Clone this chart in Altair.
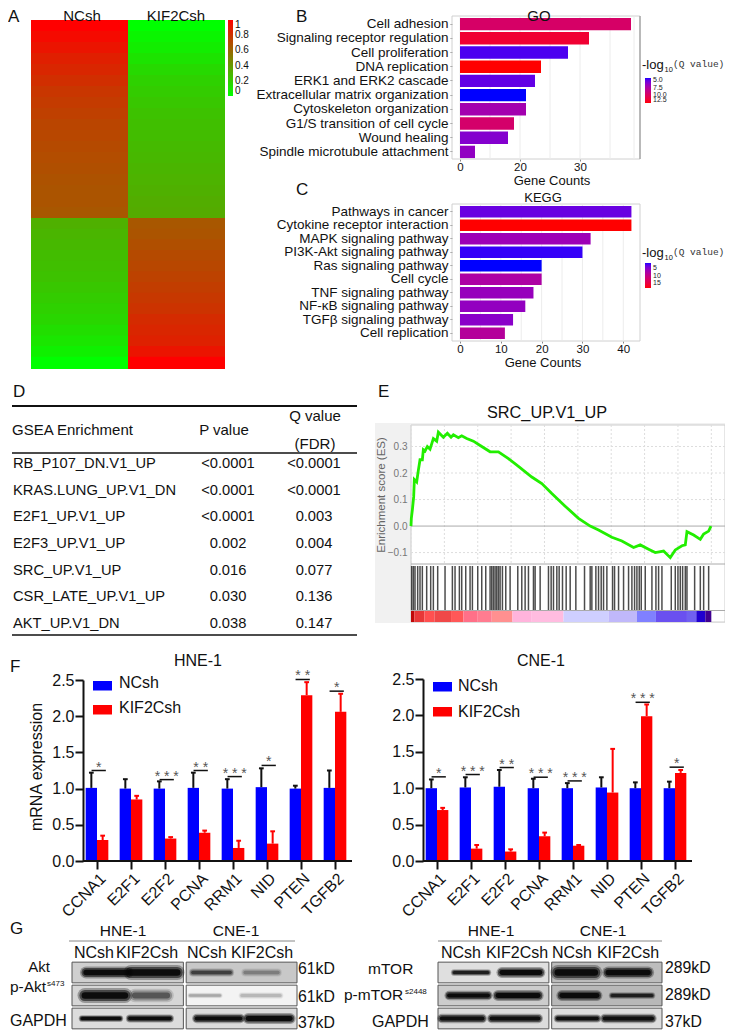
import altair as alt
import pandas as pd

W, H = 717, 1023
SANS = "Liberation Sans"
BLANK = alt.Data(values=[{"a": 1}])

def P(v):
    return v - 8

def T(text, x, y, size=14, align="left", color="#111111", font=SANS, angle=0, baseline="middle"):
    return alt.Chart(BLANK).mark_text(text=text, fontSize=size, align=align, baseline=baseline,
                                      color=color, font=font, angle=angle).encode(
        x=alt.value(P(x)), y=alt.value(P(y)))

def BOX(x0, y0, x1, y1, fill="transparent", stroke="transparent", sw=1):
    return alt.Chart(BLANK).mark_rect(fill=fill, stroke=stroke, strokeWidth=sw).encode(
        x=alt.value(P(x0)), x2=alt.value(P(x1)), y=alt.value(P(y0)), y2=alt.value(P(y1)))

def HL(x0, x1, y, color="#000000", sw=1):
    return alt.Chart(BLANK).mark_rule(color=color, strokeWidth=sw).encode(
        x=alt.value(P(x0)), x2=alt.value(P(x1)), y=alt.value(P(y)))

# ---------------------------------------------------------------- A heat map
heat_nc = [1.0, .96, .92, .88, .85, .82, .79, .77, .75, .73, .72, .71, .70, .69, .68, .67, .67, .66,
           .31, .29, .28, .26, .25, .24, .22, .20, .18, .16, .13, .10, .06, .0]
heat_kif = [.0, .04, .07, .11, .15, .18, .20, .22, .24, .25, .26, .27, .28, .29, .30, .31, .32, .33,
            .66, .67, .69, .71, .72, .74, .76, .78, .80, .83, .85, .87, .92, 1.0]
heat_rows = []
for r, (a, b) in enumerate(zip(heat_nc, heat_kif)):
    heat_rows.append({"col": 0, "col2": 1, "r": r, "r2": r + 1.15, "v": a})
    heat_rows.append({"col": 1, "col2": 2, "r": r, "r2": r + 1.15, "v": b})
heat = alt.Chart(pd.DataFrame(heat_rows)).mark_rect().encode(
    x=alt.X("col:Q", scale=alt.Scale(domain=[0, 2], range=[P(31), P(225)]), axis=None),
    x2="col2:Q",
    y=alt.Y("r:Q", scale=alt.Scale(domain=[0, 18, 32.15], range=[P(20), P(218), P(369)]), axis=None),
    y2="r2:Q",
    color=alt.Color("v:Q", scale=alt.Scale(domain=[0, 1], range=["#00ff00", "#ff0000"], interpolate="rgb"),
                    legend=alt.Legend(title=None, orient="none", legendX=P(228), legendY=P(20),
                                      gradientLength=76, gradientThickness=5,
                                      values=[0, .2, .4, .6, .8, 1], labelFontSize=10, labelFont=SANS,
                                      labelColor="#111111", labelOverlap=False, labelOffset=2,
                                      format=".1~f", gradientStrokeWidth=0)),
)

# ---------------------------------------------------------------- B, C bars
go_terms = ["Cell adhesion", "Signaling receptor regulation", "Cell proliferation", "DNA replication",
            "ERK1 and ERK2 cascade", "Extracellular matrix organization", "Cytoskeleton organization",
            "G1/S transition of cell cycle", "Wound healing", "Spindle microtubule attachment"]
go_counts = [38.5, 31.5, 28, 23.5, 22.5, 21, 21, 18, 16, 5]
go_q = [9.65, 11.4, 4.85, 12.5, 5.2, 4.35, 7.05, 9.5, 6.0, 6.4]
kegg_terms = ["Pathways in cancer", "Cytokine receptor interaction", "MAPK signaling pathway",
              "PI3K-Akt signaling pathway", "Ras signaling pathway", "Cell cycle", "TNF signaling pathway",
              "NF-κB signaling pathway", "TGFβ signaling pathway", "Cell replication"]
kegg_counts = [42, 42, 32, 30, 20, 20, 18, 16, 13, 11]
kegg_q = [3.7, 18.3, 6.7, 2.2, 1.7, 8.0, 6.3, 6.0, 5.4, 8.7]

def enrich(terms, counts, qs, xscale, ticks, grid, y0, y1, axis_y, legend, frame_x=(452, 640)):
    df = pd.DataFrame({"term": terms, "count": counts, "q": qs})
    xaxis = alt.Axis(values=ticks, orient="bottom", offset=P(axis_y) - H, grid=False, domain=False,
                     tickSize=2, tickColor="#888888", labelFontSize=11.5, labelFont=SANS,
                     labelColor="#111111", labelPadding=0, labelFlush=False, format="d", title=None)
    x_enc = alt.X("count:Q", scale=xscale, stack=None, title=None, axis=xaxis)
    y_enc = alt.Y("term:N", sort=None, title=None,
                  scale=alt.Scale(domain=terms, range=[P(y0), P(y1)], paddingInner=.13, paddingOuter=.065),
                  axis=alt.Axis(orient="left", offset=-P(frame_x[0]), grid=False, domain=False, tickSize=2,
                                tickColor="#888888", labelFontSize=13.5, labelFont=SANS, labelColor="#111111",
                                labelLimit=300, labelPadding=2, title=None))
    grid_df = pd.DataFrame({"g": grid})
    g = alt.Chart(grid_df).mark_rule(color="#ececec", strokeWidth=1).encode(
        x=alt.X("g:Q", scale=xscale, axis=xaxis, title=None), y=alt.value(P(y0)), y2=alt.value(P(y1)))
    bars = alt.Chart(df).mark_bar().encode(x=x_enc, y=y_enc,
                                           color=alt.Color("q:Q", scale=legend["scale"], legend=legend["legend"]))
    return alt.layer(g, bars)

def q_legend(domain, y, values, fmt):
    return {"scale": alt.Scale(domain=domain, range=["#ff0000", "#0000ff"], interpolate="lab"),
            "legend": alt.Legend(title=None, orient="none", legendX=P(645), legendY=P(y), gradientLength=25,
                                 gradientThickness=6, values=values, labelFontSize=7, labelFont=SANS,
                                 labelColor="#222222", labelOverlap=False, format=fmt, labelOffset=2,
                                 gradientStrokeWidth=0)}

go_chart = enrich(go_terms, go_counts, go_q,
                  alt.Scale(domain=[-2.67, 0, 20, 30, 40], range=[P(452), P(460), P(520), P(580), P(640)]),
                  [0, 20, 30], [0, 10, 20, 25, 30, 35, 39], 17, 159, 159,
                  q_legend([12.5, 4.35], 78, [5, 7.5, 10, 12.5], ".1f"))
kegg_chart = enrich(kegg_terms, kegg_counts, kegg_q,
                    alt.Scale(domain=[-1.96, 44.1], range=[P(452), P(640)]),
                    [0, 10, 20, 30, 40], [0, 5, 10, 15, 20, 25, 30, 35, 40], 205, 340, 341,
                    q_legend([18.3, 1.7], 263, [5, 10, 15], "d"))

# ---------------------------------------------------------------- D table
gsea_names = ["RB_P107_DN.V1_UP", "KRAS.LUNG_UP.V1_DN", "E2F1_UP.V1_UP", "E2F3_UP.V1_UP", "SRC_UP.V1_UP",
              "CSR_LATE_UP.V1_UP", "AKT_UP.V1_DN"]
gsea_p = ["<0.0001", "<0.0001", "<0.0001", "0.002", "0.016", "0.030", "0.038"]
gsea_q = ["<0.0001", "<0.0001", "0.003", "0.004", "0.077", "0.136", "0.147"]
table_df = pd.DataFrame({"n": gsea_names, "p": gsea_p, "q": gsea_q})
row_y = alt.Y("n:N", sort=None, scale=alt.Scale(domain=gsea_names, range=[P(451), P(637)]), axis=None)
table = alt.layer(
    alt.Chart(table_df).mark_text(align="left", fontSize=14.7, font=SANS, color="#111111").encode(
        x=alt.value(P(13)), y=row_y, text="n:N"),
    alt.Chart(table_df).mark_text(align="center", fontSize=14.7, font=SANS, color="#111111").encode(
        x=alt.value(P(228)), y=row_y, text="p:N"),
    alt.Chart(table_df).mark_text(align="center", fontSize=14.7, font=SANS, color="#111111").encode(
        x=alt.value(P(314)), y=row_y, text="q:N"),
)

# ---------------------------------------------------------------- E GSEA
curve_x = [0, .01, .04, .08, .10, .17, .22, .27, .34, .37, .42, .49, .57, .67, .77, .82, .97, 1.09, 1.20, 1.27,
           1.42, 1.52, 1.67, 1.87, 2.12, 2.37, 2.62, 2.92, 3.22, 3.62, 3.92, 4.22, 4.62, 5.02, 5.37, 5.62,
           6.02, 6.32, 6.67, 6.87, 7.12, 7.32, 7.57, 7.77, 7.92, 8.12, 8.22, 8.27, 8.47, 8.67, 8.77, 8.92, 8.99]
curve_y = [0, .029, .06, .11, .175, .166, .21, .25, .25, .288, .283, .30, .29, .33, .32, .354, .335, .35, .335, .344,
           .333, .34, .33, .32, .30, .28, .28, .254, .225, .185, .16, .1225, .075, .029, 0, -.015,
           -.0425, -.056, -.081, -.071, -.0875, -.1, -.094, -.119, -.09, -.074, -.071, -.021, -.034, -.05, -.03, -.019, 0]
hits = [.02, .07, .12, .20, .27, .34, .47, .59, .67, .80, 1.02, 1.24, 1.32, 1.45, 1.52, 1.64, 1.77, 1.84, 2.0, 2.12,
        2.24, 2.37, 2.42, 2.47, 2.52, 2.57, 2.62, 2.67, 2.74, 2.84, 2.97, 3.2, 3.32, 3.42, 3.52, 3.67, 3.72, 3.87,
        4.12, 4.2, 4.27, 4.37, 4.44, 4.54, 4.65, 4.77, 4.94, 5.2, 5.37, 5.42, 5.54, 5.62, 5.7, 5.77, 5.87, 6.04, 6.1,
        6.22, 6.37, 6.52, 6.62, 6.7, 6.77, 6.84, 6.9, 7.02, 7.22, 7.34, 7.42, 7.52, 7.8, 7.92, 8.0, 8.07, 8.14, 8.22,
        8.27, 8.5, 8.67, 8.77, 8.92]
rank_starts = [0, .10, .40, .70, 1.20, 1.57, 2.0, 2.42, 3.04, 3.60, 4.57, 5.92, 6.77, 7.34, 8.27, 8.55, 8.82]
rank_ends = [.10, .40, .70, 1.20, 1.57, 2.0, 2.42, 3.04, 3.60, 4.57, 5.92, 6.77, 7.34, 8.27, 8.55, 8.82, 9.0]
rank_cols = ["#c00808", "#e83838", "#ff5050", "#f04848", "#ff5858", "#ff7088", "#ff7c90", "#ff9090", "#ffb4dc",
             "#ffbce0", "#cfcfff", "#c0b8fa", "#8080ff", "#6a50f0", "#7060f0", "#2000d0", "#400090"]

gx = alt.Scale(domain=[0, 9.41], range=[P(411), P(725)])
gy = alt.Scale(domain=[-.143, .381], range=[P(564), P(425)])
es_axis = alt.Axis(orient="left", offset=-P(411), values=[-.1, 0, .1, .2, .3], grid=False, domain=False,
                   ticks=False, labelFontSize=10, labelColor="#777777", labelFont=SANS, format=".1f",
                   labelPadding=4, title=None, zindex=1)
v_grid = alt.Chart(pd.DataFrame({"g": [0, 1, 2, 3, 4, 5, 6, 7, 8, 9]})).mark_rule(
    color="#dddddd", strokeDash=[2, 2]).encode(
    x=alt.X("g:Q", scale=gx, axis=None), y=alt.value(P(425)), y2=alt.value(P(564)))
h_grid = alt.Chart(pd.DataFrame({"g": [-.1, .1, .2, .3]})).mark_rule(
    color="#dddddd", strokeDash=[2, 2]).encode(
    y=alt.Y("g:Q", scale=gy, axis=es_axis, title=None), x=alt.value(P(411)), x2=alt.value(P(725)))
zero_line = alt.Chart(pd.DataFrame({"g": [0]})).mark_rule(color="#aaaaaa").encode(
    y=alt.Y("g:Q", scale=gy, axis=es_axis, title=None), x=alt.value(P(411)), x2=alt.value(P(725)))
es_line = alt.Chart(pd.DataFrame({"x": curve_x, "y": curve_y})).mark_line(color="#22ee00", strokeWidth=2.8).encode(
    x=alt.X("x:Q", scale=gx, axis=None),
    y=alt.Y("y:Q", scale=gy, title=None, axis=es_axis))
hit_marks = alt.Chart(pd.DataFrame({"h": hits})).mark_rule(color="#000000", strokeWidth=1.5, opacity=.7).encode(
    x=alt.X("h:Q", scale=gx, axis=None), y=alt.value(P(566)), y2=alt.value(P(610)))
rank_bar = alt.Chart(pd.DataFrame({"s": rank_starts, "e": rank_ends, "c": rank_cols})).mark_rect().encode(
    x=alt.X("s:Q", scale=gx, axis=None), x2="e:Q", y=alt.value(P(611)), y2=alt.value(P(622)),
    color=alt.Color("c:N", scale=None))
gsea = alt.layer(v_grid, h_grid, zero_line, hit_marks, rank_bar, es_line)

# ---------------------------------------------------------------- F bars
genes = ["CCNA1", "E2F1", "E2F2", "PCNA", "RRM1", "NID", "PTEN", "TGFB2"]
hne_nc = [1.01, 1.0, 1.0, 1.01, 1.0, 1.02, 1.0, 1.01]
hne_nc_cap = [1.22, 1.13, 1.10, 1.22, 1.13, 1.28, 1.04, 1.25]
hne_kd = [.29, .85, .31, .39, .18, .24, 2.29, 2.06]
hne_kd_cap = [.35, .90, .33, .42, .28, .41, 2.47, 2.31]
hne_sig_gene = [0, 2, 3, 4, 5, 6, 7]
hne_sig_y = [1.25, 1.124, 1.25, 1.166, 1.32, 2.507, 2.346]
hne_sig_txt = ["*", "* * *", "* *", "* * *", "*", "* *", "*"]
cne_nc = [1.0, 1.01, 1.02, 1.0, 1.0, 1.01, 1.0, 1.0]
cne_nc_cap = [1.12, 1.15, 1.25, 1.13, 1.07, 1.15, 1.08, 1.09]
cne_kd = [.70, .17, .13, .34, .21, .94, 1.99, 1.21]
cne_kd_cap = [.73, .22, .16, .39, .22, 1.54, 2.15, 1.25]
cne_sig_gene = [0, 1, 2, 3, 4, 6, 7]
cne_sig_y = [1.156, 1.188, 1.284, 1.151, 1.10, 2.18, 1.289]
cne_sig_txt = ["*", "* * *", "* *", "* * *", "* * *", "* * *", "*"]
BW = 1 / 3

def qpcr(nc, ncc, kd, kdc, sg, sy, st, xr, ytop):
    xs = alt.Scale(domain=[-.5, 7.5], range=[P(xr[0]), P(xr[1])])
    ys = alt.Scale(domain=[0, 2.5], range=[P(861), P(ytop)])
    rows = []
    for i in range(8):
        rows.append({"gene": genes[i], "i": i, "l": i - BW, "r": i, "c": i - BW / 2, "v": nc[i], "cap": ncc[i], "z": 0,
                     "cl": i - BW / 2 - .07, "cr": i - BW / 2 + .07, "col": "#0000ff", "ec": "#111111"})
        rows.append({"gene": genes[i], "i": i, "l": i, "r": i + BW, "c": i + BW / 2, "v": kd[i], "cap": kdc[i], "z": 0,
                     "cl": i + BW / 2 - .07, "cr": i + BW / 2 + .07, "col": "#ff0000", "ec": "#ff0000"})
    df = pd.DataFrame(rows)
    expr = "{}[datum.value]".format(genes)
    xaxis = alt.Axis(values=list(range(8)), orient="bottom", offset=P(861) - H, domain=False, grid=False, tickSize=8,
                     tickWidth=2, tickColor="#111111", labelExpr=expr, labelAngle=315, labelAlign="right",
                     labelBaseline="top", labelFontSize=16, labelFont=SANS, labelColor="#111111", labelPadding=1,
                     title=None, labelFlush=False, labelOverlap=False, labelBound=False)
    yaxis = alt.Axis(values=[0, .5, 1, 1.5, 2, 2.5], orient="left", offset=-P(xr[0] + 3), grid=False, domain=True,
                     domainWidth=2, domainColor="#111111", tickSize=8, tickWidth=2, tickColor="#111111", format=".1f",
                     labelFontSize=16, labelFont=SANS, labelColor="#111111", labelPadding=1, title=None,
                     labelFlush=False, labelOverlap=False)
    X = lambda f: alt.X(f, scale=xs, axis=xaxis, title=None)
    Y = lambda f: alt.Y(f, scale=ys, axis=yaxis, title=None)
    bars = alt.Chart(df).mark_rect().encode(
        x=X("l:Q"), x2="r:Q", y=Y("v:Q"), y2="z:Q", color=alt.Color("col:N", scale=None))
    err = alt.Chart(df).mark_rule(strokeWidth=2).encode(
        x=X("c:Q"), y=Y("v:Q"), y2="cap:Q", color=alt.Color("ec:N", scale=None))
    cap = alt.Chart(df).mark_rule(strokeWidth=2).encode(
        x=X("cl:Q"), x2="cr:Q", y=Y("cap:Q"), color=alt.Color("ec:N", scale=None))
    base = alt.Chart(alt.Data(values=[{"y": 0, "a": -.41, "b": 7.5}])).mark_rule(strokeWidth=2, color="#111111").encode(
        x=X("a:Q"), x2="b:Q", y=Y("y:Q"))
    sdf = pd.DataFrame({"g": sg, "y": sy, "t": st})
    sdf["a"] = sdf["g"] - .16
    sdf["b"] = sdf["g"] + .26
    sdf["m"] = sdf["g"] + .05
    sig = alt.Chart(sdf).mark_rule(strokeWidth=1.5, color="#111111").encode(
        x=X("a:Q"), x2="b:Q", y=Y("y:Q"))
    stars = alt.Chart(sdf).mark_text(fontSize=14, font=SANS, color="#555555", baseline="middle", dy=-3).encode(
        x=X("m:Q"), y=Y("y:Q"), text="t:N")
    return alt.layer(bars, err, cap, base, sig, stars)

hne_chart = qpcr(hne_nc, hne_nc_cap, hne_kd, hne_kd_cap, hne_sig_gene, hne_sig_y, hne_sig_txt, (80, 352), 680)
cne_chart = qpcr(cne_nc, cne_nc_cap, cne_kd, cne_kd_cap, cne_sig_gene, cne_sig_y, cne_sig_txt, (420, 692), 679)

# ---------------------------------------------------------------- G blots
blot_rows = ["Total", "Phospho", "GAPDH"]
left_bg = ["#cfcfcf", "#d6d6d6", "#dcdcdc"]
left_bg2 = ["#c8c8c8", "#f3f3f3", "#dcdcdc"]
right_bg = ["#dfdfdf", "#cccccc", "#dcdcdc"]
right_bg2 = ["#bdbdbd", "#b8b8b8", "#dddddd"]
left_row = [0, 0, 0, 0, 1, 1, 1, 1, 2, 2, 2, 2]
left_a = [.25, 1.05, 2.15, 3.08, .23, 1.12, 2.10, 3.02, .18, 1.03, 2.22, 3.13]
left_b = [.98, 1.87, 2.81, 3.66, .94, 1.69, 2.63, 3.70, .85, 1.74, 2.99, 3.88]
left_t = [9, 11, 6, 6, 11, 10, 4, 5, 5, 6, 7, 8]
left_o = [1, 1, .55, .25, 1, .45, .2, .15, 1, 1, 1, 1]
right_row = [0, 0, 0, 0, 1, 1, 1, 1, 2, 2, 2, 2]
right_a = [.29, 1.14, 2.14, 3.04, .20, 1.07, 2.21, 3.11, .07, .96, 2.14, 2.98]
right_b = [.89, 1.82, 2.80, 3.75, .89, 1.79, 2.84, 3.82, .79, 1.79, 2.84, 3.82]
right_t = [5, 8, 11, 9, 7, 8, 8, 5, 7, 7, 6, 7]
right_o = [.8, 1, 1, 1, 1, 1, 1, .75, .95, .95, .95, .95]

def blot(bg1, bg2, rws, a, b, t, o, x0, x1):
    xs = alt.Scale(domain=[0, 4], range=[P(x0), P(x1)])
    ys = alt.Scale(domain=blot_rows, range=[P(961), P(1030)], paddingInner=.1, paddingOuter=.05)
    bgd = pd.DataFrame({"r": blot_rows * 2, "a": [0] * 3 + [2.03] * 3, "b": [1.98] * 3 + [4] * 3, "f": bg1 + bg2})
    y_enc = alt.Y("r:N", scale=ys, axis=None, sort=None)
    bg = alt.Chart(bgd).mark_rect(stroke="#555555", strokeWidth=1).encode(
        x=alt.X("a:Q", scale=xs, axis=None), x2="b:Q", y=y_enc, fill=alt.Fill("f:N", scale=None))
    dfb = pd.DataFrame({"r": [blot_rows[i] for i in rws], "a": a, "b": b, "t": t, "o": o})
    dfb["t1"] = dfb["t"] * 1.35
    dfb["o1"] = dfb["o"] * .3
    dfb["t2"] = dfb["t"] * 1.0
    dfb["o2"] = dfb["o"] * .55
    dfb["t3"] = dfb["t"] * .6
    dfb["o3"] = dfb["o"] * .9
    layers = [bg]
    for k in "123":
        layers.append(alt.Chart(dfb).mark_rule(color="#050505", strokeCap="round").encode(
            x=alt.X("a:Q", scale=xs, axis=None), x2="b:Q", y=y_enc,
            size=alt.Size("t%s:Q" % k, scale=None), opacity=alt.Opacity("o%s:Q" % k, scale=None)))
    return alt.layer(*layers)

blot_l = blot(left_bg, left_bg2, left_row, left_a, left_b, left_t, left_o, 72, 297)
blot_r = blot(right_bg, right_bg2, right_row, right_a, right_b, right_t, right_o, 438, 662)

# ---------------------------------------------------------------- decoration, text
def legend_f(xr, xt, y1, y2, t1, t2):
    return [BOX(xr, y1, xr + 19, y1 + 9.5, fill="#0000ff"), BOX(xr, y2, xr + 19, y2 + 9.5, fill="#ff0000"),
            T("NCsh", xt, t1, 16), T("KIF2Csh", xt, t2, 16)]

texts = [
    T("A", 8, 17, 17), T("B", 296, 17, 17), T("C", 296, 190, 17), T("D", 13, 392, 17), T("E", 378, 392, 17),
    T("F", 10, 667, 17), T("G", 10, 929, 17),
    T("NCsh", 82, 15.5, 15, "center"), T("KIF2Csh", 176, 15.5, 15, "center"),
    T("GO", 539, 16, 15, "center"), T("Gene Counts", 552, 181, 13, "center"),
    T("KEGG", 543, 198, 13, "center"), T("Gene Counts", 543, 363, 13, "center"),
    T("-log", 642, 65, 13), T("10", 664.5, 70, 7.5), T("(Q value)", 673, 64, 9.5, font="Liberation Mono", color="#333333"),
    T("-log", 642, 253, 13), T("10", 664.5, 258, 7.5), T("(Q value)", 673, 252, 9.5, font="Liberation Mono", color="#333333"),
    T("GSEA Enrichment", 12, 430, 15), T("P value", 224, 430, 15, "center"),
    T("Q value", 315, 416, 15, "center"), T("(FDR)", 315, 444, 15, "center"),
    T("SRC_UP.V1_UP", 547, 413, 16.3, "center"),
    T("Enrichment score (ES)", 382, 495, 11.5, "center", color="#666666", angle=270),
    T("HNE-1", 198, 661, 16, "center"), T("CNE-1", 541, 661, 16, "center"),
    T("mRNA expression", 37, 767, 16, "center", angle=270),
    # G left
    T("HNE-1", 123, 931, 15.5, "center"), T("CNE-1", 236, 931, 15.5, "center"),
    T("NCsh", 94, 953, 16, "center"), T("KIF2Csh", 147, 953, 16, "center"),
    T("NCsh", 207, 953, 16, "center"), T("KIF2Csh", 262, 953, 16, "center"),
    T("Akt", 39, 967, 15, "center"), T("p-Akt", 10, 987, 15.5), T("s473", 47, 984, 8), T("GAPDH", 10, 1021, 16),
    T("61kD", 298, 969, 15.8), T("61kD", 298, 997, 15.8), T("37kD", 298, 1023, 15.8),
    # G right
    T("HNE-1", 491, 931, 15.5, "center"), T("CNE-1", 603, 931, 15.5, "center"),
    T("NCsh", 461, 953, 16, "center"), T("KIF2Csh", 517, 953, 16, "center"),
    T("NCsh", 572, 953, 16, "center"), T("KIF2Csh", 628, 953, 16, "center"),
    T("mTOR", 368, 969, 15.5), T("p-mTOR", 344, 995, 15.5), T("s2448", 405, 992, 8), T("GAPDH", 372, 1022, 16),
    T("289kD", 665, 968, 15.8), T("289kD", 665, 995, 15.8), T("37kD", 665, 1022, 15.8),
]

frames = [
    BOX(452, 16, 640, 159, stroke="#d0d0d0"),
    BOX(452, 204, 640, 341, stroke="#d0d0d0"),
    BOX(375, 423, 725, 623, fill="#f1f1f1"),
    BOX(411, 425, 725, 622, fill="#ffffff", stroke="#cccccc"),
    HL(411, 725, 564, "#aaaaaa", 1), HL(411, 725, 610.5, "#aaaaaa", 1),
    HL(12, 357, 406, "#111111", 2), HL(12, 357, 453, "#111111", 1.5), HL(12, 357, 635, "#111111", 1.5),
    HL(69, 295, 941, "#888888", 1), HL(438, 662, 941, "#888888", 1),
]
right_edge = alt.Chart(BLANK).mark_rule(color="#aaaaaa", strokeWidth=1.5).encode(
    x=alt.value(P(640)), y=alt.value(P(16)), y2=alt.value(P(159)))

layers = frames + [right_edge, heat, go_chart, kegg_chart, table, gsea, hne_chart, cne_chart, blot_l, blot_r]
layers += legend_f(93, 119, 681, 705, 683, 708) + legend_f(433, 458, 682, 707, 686, 712) + texts

chart = alt.layer(*layers).resolve_scale(x="independent", y="independent", color="independent").properties(
    width=W, height=H, padding=0, autosize=alt.AutoSizeParams(type="none"), background="#ffffff"
).configure_view(stroke=None)

chart.save("out.html", embed_options={"renderer": "svg", "actions": False})
